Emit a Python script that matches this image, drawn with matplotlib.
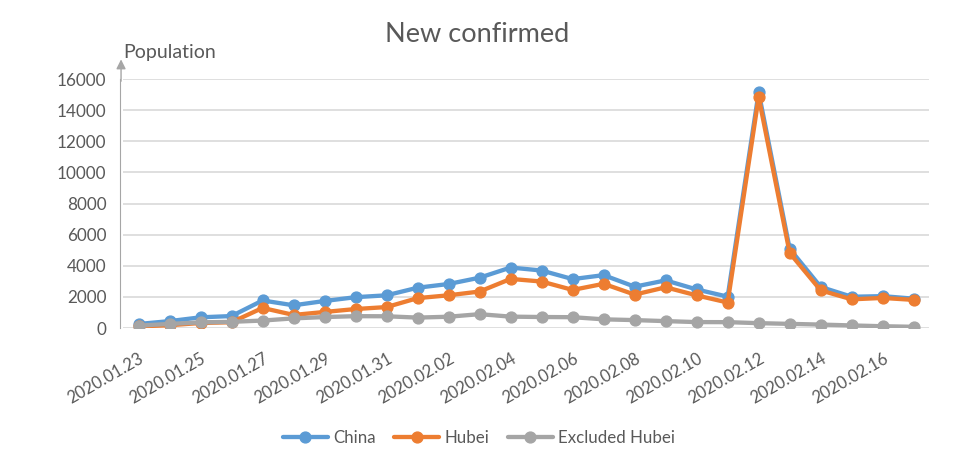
import numpy as np
import matplotlib
matplotlib.use("Agg")
import matplotlib.pyplot as plt

dates = ["2020.01.23", "2020.01.24", "2020.01.25", "2020.01.26", "2020.01.27",
         "2020.01.28", "2020.01.29", "2020.01.30", "2020.01.31", "2020.02.01",
         "2020.02.02", "2020.02.03", "2020.02.04", "2020.02.05", "2020.02.06",
         "2020.02.07", "2020.02.08", "2020.02.09", "2020.02.10", "2020.02.11",
         "2020.02.12", "2020.02.13", "2020.02.14", "2020.02.15", "2020.02.16",
         "2020.02.17"]
china = [259, 444, 688, 769, 1771, 1459, 1737, 1982, 2102, 2590, 2829, 3235, 3887,
         3694, 3143, 3399, 2656, 3062, 2478, 2015, 15152, 5090, 2641, 2009, 2048, 1886]
hubei = [105, 180, 323, 371, 1291, 840, 1032, 1220, 1347, 1921, 2103, 2345, 3156,
         2987, 2447, 2841, 2147, 2618, 2097, 1638, 14840, 4823, 2420, 1843, 1933, 1807]
excluded = [154, 264, 365, 398, 480, 619, 705, 762, 755, 669, 726, 890, 731,
            707, 696, 558, 509, 444, 381, 377, 312, 267, 221, 166, 115, 79]

plt.rcParams['font.family'] = ['Lato', 'DejaVu Sans']
txt = '#595959'

fig = plt.figure(figsize=(9.54, 4.67), dpi=100)
ax = fig.add_axes([0.129, 0.2976, 0.845, 0.5332])

x = np.arange(len(dates))
series = [(china, 'China', '#5B9BD5'),
          (hubei, 'Hubei', '#ED7D31'),
          (excluded, 'Excluded Hubei', '#A5A5A5')]
for vals, name, col in series:
    ax.plot(x, vals, color=col, lw=3.1, marker='o', ms=7.8, label=name,
            solid_capstyle='round')

ax.set_xlim(-0.5, len(dates) - 0.5)
ax.set_ylim(0, 16000)
ax.set_yticks(range(0, 16001, 2000))
ax.set_xticks(x[::2])
ax.set_xticklabels(dates[::2], rotation=30, ha='right', rotation_mode='anchor',
                   fontsize=12, color=txt)
ax.tick_params(axis='x', length=0, pad=16)
ax.tick_params(axis='y', length=0, pad=10, labelsize=12.3, labelcolor=txt)

ax.grid(axis='y', color='#D9D9D9', lw=1.2)
ax.set_axisbelow(True)
for s in ['top', 'right', 'bottom']:
    ax.spines[s].set_visible(False)
ax.spines['left'].set_color('#A6A6A6')
ax.spines['left'].set_position(('outward', 2))

ax.annotate('', xy=(-0.0025, 1.09), xytext=(-0.0025, 0.98), xycoords='axes fraction',
            arrowprops=dict(arrowstyle='-|>', color='#A6A6A6', lw=1, mutation_scale=14),
            annotation_clip=False)
ax.text(0.0, 1.105, 'Population', transform=ax.transAxes, fontsize=14, color=txt,
        va='center', ha='left')

fig.text(0.5, 0.926, 'New confirmed', ha='center', va='center', fontsize=19.5, color=txt)

fig.legend(loc='center', bbox_to_anchor=(0.502, 0.062), ncol=3, frameon=False,
           fontsize=12.2, labelcolor=txt, handlelength=2.65, handletextpad=0.3,
           columnspacing=1.1)

fig.savefig('out.png', dpi=100)
